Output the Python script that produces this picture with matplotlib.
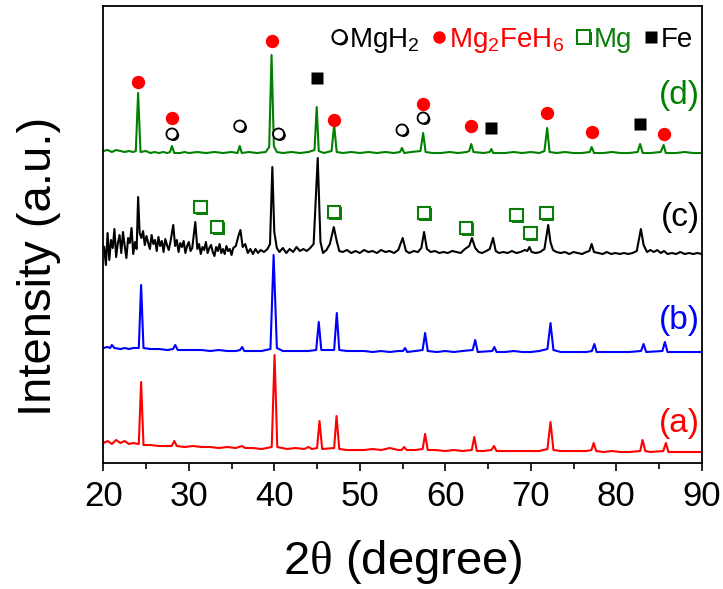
import matplotlib
matplotlib.use('Agg')
import matplotlib.pyplot as plt
import matplotlib.patheffects as pe
from matplotlib.lines import Line2D

plt.rcParams['font.family'] = ['Liberation Sans', 'DejaVu Sans']
plt.rcParams['mathtext.fontset'] = 'custom'
plt.rcParams['mathtext.rm'] = 'Liberation Serif'
plt.rcParams['mathtext.sf'] = 'Liberation Sans'

# XRD patterns, intensity in arbitrary units (stacked)
two_theta_a = [20.0, 20.5, 21.0, 21.5, 22.0, 22.5, 23.0, 23.5, 24.15, 24.42, 24.7, 25.5, 26.5, 27.5, 28.0,
               28.3, 28.6, 29.5, 30.5, 31.5, 32.5, 33.5, 34.5, 35.5, 36.2, 36.6, 37.5, 38.5, 39.7, 40.03,
               40.35, 41.5, 42.5, 43.5, 44.0, 44.4, 45.0, 45.29, 45.6, 47.0, 47.28, 47.6, 48.5, 49.5,
               50.5, 51.5, 52.5, 53.5, 54.5, 54.9, 55.18, 55.5, 56.5, 57.35, 57.64, 57.95, 58.8, 60.0,
               61.0, 62.0, 63.1, 63.39, 63.7, 64.5, 65.4, 65.7, 66.0, 67.0, 68.0, 69.0, 70.0, 71.0,
               71.95, 72.31, 72.65, 73.5, 74.5, 75.5, 76.5, 77.1, 77.36, 77.65, 78.5, 79.5, 80.5, 81.5,
               82.8, 83.08, 83.4, 84.0, 85.5, 85.81, 86.1, 87.0, 88.0, 89.0, 90.0]
intensity_a = [19, 21, 18, 22, 19, 21, 18, 19, 18, 80, 17, 17, 16, 16, 16,
               21, 16, 15, 16, 15, 15, 14, 15, 14, 16, 14, 14, 13, 15, 107,
               15, 13, 14, 13, 15, 13, 14, 41, 13, 14, 46, 13, 12, 12,
               12, 13, 12, 14, 12, 12, 15, 12, 12, 13, 28, 12, 12, 11,
               12, 11, 12, 25, 11, 11, 12, 16, 11, 11, 11, 11, 11, 11,
               13, 40, 12, 11, 11, 11, 11, 12, 19, 11, 10, 11, 10, 10,
               11, 22, 11, 10, 11, 19, 10, 10, 10, 10, 10]

two_theta_b = [20.0, 20.5, 20.8, 21.0, 21.3, 22.0, 22.5, 23.0, 23.5, 24.15, 24.42, 24.7, 25.5, 26.5, 27.5,
               28.15, 28.42, 28.7, 29.5, 30.5, 31.5, 32.5, 33.5, 34.5, 35.5, 36.0, 36.24, 36.5, 37.5,
               38.5, 39.55, 39.92, 40.3, 41.0, 42.0, 43.0, 44.0, 44.9, 45.2, 45.5, 47.0, 47.31, 47.6,
               48.5, 49.5, 50.5, 51.5, 52.5, 53.5, 54.5, 55.05, 55.3, 55.55, 56.5, 57.35, 57.64, 57.95,
               59.0, 60.0, 61.0, 62.0, 63.2, 63.5, 63.8, 65.5, 65.74, 66.0, 67.0, 68.0, 69.0, 70.0,
               71.0, 71.95, 72.31, 72.65, 73.5, 74.5, 75.5, 76.5, 77.15, 77.44, 77.7, 78.5, 79.5, 80.5,
               81.5, 82.9, 83.19, 83.5, 85.4, 85.69, 86.0, 87.0, 88.0, 89.0, 90.0]
intensity_b = [114, 115, 114, 117, 114, 113, 114, 113, 114, 114, 177, 114, 113, 113, 112,
               113, 117, 112, 112, 112, 112, 111, 112, 111, 111, 112, 115, 111, 111,
               111, 113, 207, 114, 111, 111, 111, 111, 112, 140, 112, 112, 149, 112,
               111, 111, 111, 110, 111, 110, 111, 111, 114, 110, 111, 112, 129, 111,
               110, 111, 110, 111, 112, 122, 110, 111, 115, 110, 110, 111, 110, 110,
               111, 113, 139, 112, 110, 110, 110, 110, 111, 118, 110, 110, 110, 110,
               110, 111, 118, 110, 111, 120, 110, 110, 110, 110, 110]

two_theta_c = [20.1, 20.3, 20.5, 20.7, 20.9, 21.1, 21.3, 21.5, 21.7, 21.9, 22.1, 22.3, 22.5, 22.7, 22.9,
               23.1, 23.3, 23.5, 23.7, 23.9, 24.07, 24.25, 24.45, 24.65, 24.85, 25.05, 25.25, 25.45,
               25.65, 25.85, 26.05, 26.25, 26.45, 26.65, 26.85, 27.05, 27.25, 27.45, 27.65, 27.85,
               28.18, 28.4, 28.6, 28.8, 29.0, 29.2, 29.4, 29.6, 29.8, 30.0, 30.2, 30.4, 30.76, 31.0,
               31.2, 31.4, 31.6, 31.8, 32.0, 32.2, 32.4, 32.6, 32.8, 33.0, 33.2, 33.4, 33.6, 33.8,
               34.0, 34.2, 34.4, 34.6, 34.8, 35.0, 35.2, 35.5, 35.8, 36.04, 36.3, 36.6, 36.9, 37.2,
               37.5, 37.8, 38.1, 38.4, 38.8, 39.2, 39.5, 39.77, 40.0, 40.3, 40.6, 41.0, 41.4, 41.8,
               42.2, 42.6, 43.0, 43.4, 43.8, 44.2, 44.6, 45.08, 45.4, 45.7, 46.1, 46.5, 46.96, 47.3,
               47.6, 48.0, 48.5, 49.0, 49.5, 50.0, 50.5, 51.0, 51.5, 52.0, 52.5, 53.0, 53.5, 54.0,
               54.5, 55.02, 55.4, 55.8, 56.3, 56.8, 57.2, 57.52, 57.85, 58.3, 58.8, 59.3, 59.8, 60.3,
               60.8, 61.3, 61.8, 62.3, 62.8, 63.12, 63.5, 63.9, 64.3, 64.8, 65.2, 65.59, 65.9, 66.3,
               66.8, 67.3, 67.8, 68.3, 68.8, 69.3, 69.6, 69.85, 70.1, 70.6, 71.1, 71.6, 72.04, 72.3,
               72.6, 73.0, 73.5, 74.0, 74.5, 75.0, 75.5, 76.0, 76.5, 76.85, 77.12, 77.4, 77.9, 78.4,
               78.9, 79.4, 79.9, 80.4, 80.9, 81.4, 81.9, 82.4, 82.88, 83.2, 83.6, 84.0, 84.4, 84.8,
               85.2, 85.6, 86.0, 86.5, 87.0, 87.5, 88.0, 88.5, 89.0, 89.5, 90.0]
intensity_c = [215, 197, 229, 202, 222, 214, 233, 205, 219, 227, 209, 230, 216, 204, 224,
               219, 234, 208, 220, 213, 265, 229, 224, 231, 217, 226, 219, 213,
               227, 218, 222, 211, 225, 216, 221, 210, 223, 217, 212, 220,
               237, 216, 222, 210, 219, 215, 221, 209, 216, 220, 211, 214, 240, 213,
               218, 208, 215, 212, 220, 209, 214, 217, 210, 206, 215, 211, 218, 209,
               213, 208, 216, 211, 213, 207, 214, 216, 226, 232, 215, 218, 209, 213,
               208, 213, 209, 212, 210, 213, 218, 295, 230, 214, 210, 214, 209, 213,
               210, 215, 211, 213, 211, 214, 218, 304, 220, 209, 212, 218, 235, 221,
               211, 210, 212, 209, 211, 209, 212, 210, 211, 209, 212, 210, 211, 209,
               212, 224, 211, 209, 211, 210, 214, 230, 213, 210, 211, 209, 210, 209,
               211, 210, 209, 213, 216, 224, 214, 210, 209, 211, 213, 224, 211, 209,
               210, 209, 211, 209, 210, 212, 211, 215, 210, 209, 210, 213, 237, 220,
               212, 210, 209, 210, 208, 210, 209, 208, 210, 211, 218, 210, 209, 208,
               210, 208, 209, 208, 209, 208, 209, 211, 233, 217, 210, 212, 210, 212,
               209, 211, 208, 209, 208, 210, 208, 209, 208, 209, 208]

two_theta_d = [20.0, 20.5, 21.0, 21.5, 22.0, 22.5, 23.0, 23.5, 23.8, 24.07, 24.35, 25.0, 25.5, 26.0, 26.5,
               27.0, 27.5, 27.8, 28.03, 28.3, 29.0, 29.5, 30.0, 31.0, 32.0, 33.0, 34.0, 35.0, 35.7,
               35.96, 36.2, 37.0, 38.0, 39.0, 39.4, 39.68, 39.95, 40.3, 41.0, 42.0, 43.0, 44.0, 44.7,
               44.96, 45.2, 45.8, 46.7, 47.0, 47.3, 48.0, 49.0, 50.0, 51.0, 52.0, 53.0, 54.0, 54.7,
               54.94, 55.2, 56.0, 57.1, 57.41, 57.7, 58.5, 59.5, 60.5, 61.5, 62.5, 62.8, 63.04, 63.3,
               64.5, 65.2, 65.39, 65.6, 67.0, 68.0, 69.0, 70.0, 71.0, 71.6, 71.92, 72.2, 73.0, 74.0,
               75.0, 76.0, 76.9, 77.12, 77.4, 78.5, 79.5, 80.5, 81.5, 82.5, 82.79, 83.1, 84.0, 85.2,
               85.54, 85.8, 87.0, 88.0, 89.0, 90.0]
intensity_d = [311, 312, 310, 312, 311, 310, 311, 310, 311, 369, 310, 311, 309, 310, 309,
               310, 309, 310, 316, 309, 309, 310, 309, 310, 309, 310, 309, 310, 309,
               316, 309, 310, 309, 310, 315, 407, 316, 310, 309, 310, 309, 310, 312,
               355, 311, 309, 311, 337, 310, 309, 310, 309, 310, 309, 310, 309, 310,
               314, 309, 310, 311, 329, 310, 309, 309, 310, 309, 310, 311, 318, 310,
               309, 310, 313, 309, 309, 310, 309, 310, 309, 311, 334, 310, 309, 310,
               309, 309, 310, 315, 309, 309, 310, 309, 309, 310, 318, 309, 309, 310,
               317, 309, 309, 310, 309, 309]

# phase markers (peak position, marker height)
mgh2_x = [28.03, 35.96, 40.5, 54.94, 57.41]
mgh2_y = [328, 336, 328, 332, 344]
mg2feh6_x = [24.07, 28.03, 39.68, 47.0, 57.41, 63.04, 71.92, 77.12, 85.54]
mg2feh6_y = [380, 344, 421, 342, 358, 336, 349, 330, 328]
fe_x = [44.96, 65.39, 82.79]
fe_y = [384, 334, 338]
mg_x = [31.37, 33.31, 46.96, 57.52, 62.45, 68.32, 69.96, 71.84]
mg_y = [255, 235, 250, 249, 234, 247, 229, 249]

sample_labels = ['(a)', '(b)', '(c)', '(d)']
sample_colors = ['#ff0000', '#0000ff', '#000000', '#008000']
label_y = [39, 142, 245, 367]

GREEN = '#0a7d0a'

fig = plt.figure(figsize=(7.23, 5.89), dpi=100)
ax = fig.add_axes([0.1429, 0.2139, 0.8277, 0.7759])

patterns = [(two_theta_a, intensity_a), (two_theta_b, intensity_b),
            (two_theta_c, intensity_c), (two_theta_d, intensity_d)]
for (x, y), c in zip(patterns, sample_colors):
    ax.plot(x, y, color=c, lw=1.5)

for lab, c, ly in zip(sample_labels, sample_colors, label_y):
    ax.text(89.8, ly, lab, color=c, fontsize=24, ha='right', va='center')

green_shadow = [pe.withSimplePatchShadow(offset=(1.2, -1.2), shadow_rgbFace=GREEN, alpha=1)]
black_shadow = [pe.withSimplePatchShadow(offset=(1.2, -1.0), shadow_rgbFace='black', alpha=1)]

ax.plot(mg2feh6_x, mg2feh6_y, 'o', ms=9.6, mfc='#ff0000', mec='none', ls='none')
ax.plot(mgh2_x, mgh2_y, 'o', ms=8, mfc='white', mec='black', mew=1.3, ls='none',
        path_effects=black_shadow)
ax.plot(fe_x, fe_y, 's', ms=9, mfc='black', mec='none', ls='none')
ax.plot(mg_x, mg_y, 's', ms=9, mfc='white', mec=GREEN, mew=1.5, ls='none',
        path_effects=green_shadow)

handles = [
    Line2D([], [], marker='o', ls='none', ms=10, mfc='white', mec='black', mew=1.5,
           path_effects=black_shadow),
    Line2D([], [], marker='o', ls='none', ms=9, mfc='#ff0000', mec='none'),
    Line2D([], [], marker='s', ls='none', ms=9.5, mfc='white', mec=GREEN, mew=1.5,
           path_effects=green_shadow),
    Line2D([], [], marker='s', ls='none', ms=8.5, mfc='black', mec='none'),
]
names = [r'MgH$_\mathsf{2}$', r'Mg$_\mathsf{2}$FeH$_\mathsf{6}$', 'Mg', 'Fe']
leg = ax.legend(handles, names, ncol=4, loc='center right', bbox_to_anchor=(0.995, 0.925),
                frameon=False, fontsize=20, handlelength=0.5, handletextpad=0.1,
                columnspacing=0.45, borderaxespad=0.1, borderpad=0.1)
for t, c in zip(leg.get_texts(), ['black', '#ff0000', GREEN, 'black']):
    t.set_color(c)

ax.set_xlim(20, 90)
ax.set_ylim(-1, 456)
ax.set_xticks(range(20, 91, 10))
ax.set_xticks(range(25, 90, 10), minor=True)
ax.set_yticks([])
ax.tick_params(axis='x', which='major', direction='out', length=6, width=1.2, labelsize=25, pad=6)
ax.tick_params(axis='x', which='minor', direction='out', length=4.5, width=1.2)
for s in ax.spines.values():
    s.set_linewidth(1.3)

ax.set_xlabel(r'2$\mathrm{\theta}$ (degree)', fontsize=34, labelpad=18)
ax.set_ylabel('Intensity (a.u.)', fontsize=34)
ax.yaxis.set_label_coords(-0.07, 0.43)

fig.savefig('out.png', dpi=100)
